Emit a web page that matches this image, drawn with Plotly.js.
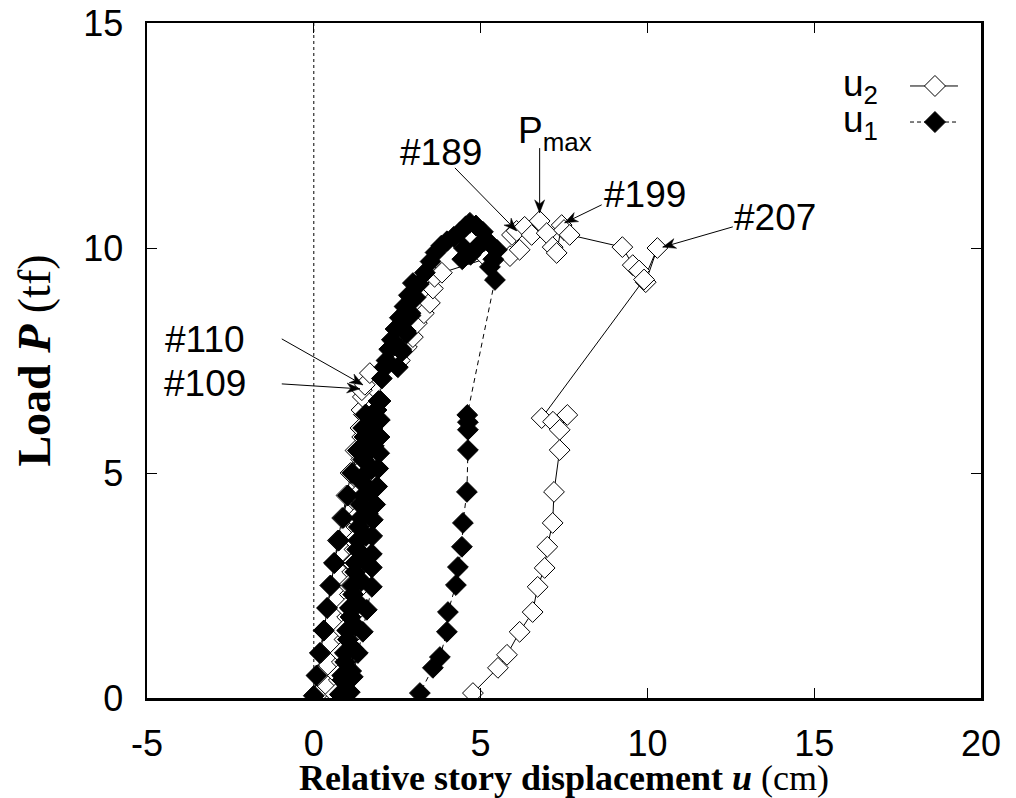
<!DOCTYPE html>
<html>
<head>
<meta charset="utf-8">
<script src="https://cdn.plot.ly/plotly-3.0.1.min.js"></script>
<style>html,body{margin:0;padding:0;background:#fff;}#chart{width:1016px;height:798px;}</style>
</head>
<body>
<div id="chart"></div>
<script>
// ---- data ----
// u1 : filled diamonds, dashed line  (displacement cm, load tf)
const u1Disp = [
  0.00,0.08,0.18,0.30,0.40,0.50,0.62,0.75,0.88,1.02,1.15,1.32,1.48,1.55,
  1.52,1.48,1.44,1.40,1.35,1.30,1.24,1.18,1.10,1.02,0.94,0.86,0.78,
  0.85,0.93,1.00,1.08,1.16,1.25,1.33,1.41,1.49,1.57,1.66,1.76,1.88,2.00,
  1.98,1.97,1.96,1.93,1.90,1.84,1.77,1.75,1.74,1.74,1.74,1.59,1.47,1.32,1.17,1.08,
  1.12,1.18,1.26,1.34,1.42,1.50,1.56,1.62,1.68,1.74,1.80,1.86,1.94,
  2.04,2.12,2.18,2.26,2.34,2.45,2.58,2.72,2.85,2.97,
  2.98,2.90,2.78,2.64,2.52,
  2.62,2.76,2.90,3.05,3.15,3.33,3.50,3.65,3.82,3.99,
  4.20,4.38,4.55,4.68,4.86,5.07,
  4.95,4.70,4.45,
  4.50,4.89,5.10,5.28,5.49,5.38,5.28,5.43,
  4.60,4.62,4.62,4.62,4.59,4.47,4.44,4.32,4.26,4.02,3.99,3.78,3.57,3.18
];
const u1Load = [
  0.05,0.5,1.0,1.5,2.0,2.5,3.0,3.5,4.0,4.5,5.0,5.5,6.0,6.3,
  5.8,5.3,4.8,4.3,3.8,3.3,2.8,2.3,1.8,1.3,0.8,0.4,0.08,
  0.5,1.0,1.5,2.0,2.5,3.0,3.5,4.0,4.5,5.0,5.5,6.0,6.4,6.6,
  6.18,5.8,5.44,5.1,4.7,4.3,3.96,3.6,3.2,2.9,2.47,1.96,1.47,1.0,0.47,0.13,
  0.6,1.1,1.6,2.1,2.6,3.1,3.6,4.1,4.6,5.1,5.6,6.1,6.6,
  7.1,7.35,7.5,7.75,7.96,8.2,8.45,8.7,8.95,9.22,
  8.9,8.5,8.1,7.7,7.35,
  7.75,8.15,8.55,8.9,9.2,9.45,9.7,9.9,10.05,10.15,
  10.25,10.35,10.48,10.56,10.50,10.36,
  10.05,9.85,9.75,
  10.0,10.02,10.15,10.10,9.96,9.75,9.58,9.29,
  6.29,6.13,5.96,5.51,4.58,3.89,3.36,2.91,2.51,1.91,1.47,0.91,0.67,0.11
];
// u2 : open diamonds, solid line
const u2Disp = [
  0.08,0.12,0.20,0.30,0.40,0.50,0.60,0.72,0.85,0.98,1.10,1.25,1.40,1.50,
  1.45,1.42,1.38,1.33,1.28,1.22,1.15,1.08,1.00,0.92,0.84,0.75,0.65,
  0.72,0.80,0.88,0.96,1.04,1.12,1.20,1.28,1.36,1.44,1.52,1.60,1.70,
  1.68,1.65,1.62,1.60,1.58,1.55,1.50,1.45,1.38,1.30,1.20,1.10,1.00,
  1.02,1.05,1.08,1.10,1.13,1.16,1.20,1.24,1.28,1.32,1.36,1.40,1.43,1.47,1.44,1.53,1.68,
  2.20,2.58,2.79,2.97,3.09,3.30,3.48,3.57,3.62,3.84,5.19,5.50,5.88,6.17,
  5.94,6.08,6.32,6.53,6.77,6.98,7.16,7.28,7.43,7.50,7.67,
  9.25,9.56,9.75,9.95,10.30,9.90,
  6.83,7.17,7.60,7.37,7.37,7.20,7.16,7.00,6.92,6.71,6.56,6.17,5.79,5.52,4.77
];
const u2Load = [
  0.05,0.5,1.0,1.5,2.0,2.5,3.0,3.5,4.0,4.5,5.0,5.5,6.0,6.3,
  5.8,5.3,4.8,4.3,3.8,3.3,2.8,2.3,1.8,1.3,0.8,0.4,0.08,
  0.5,1.0,1.5,2.0,2.5,3.0,3.5,4.0,4.5,5.0,5.5,6.0,6.5,
  6.0,5.5,5.0,4.5,4.0,3.5,3.0,2.5,2.0,1.5,1.0,0.5,0.08,
  0.5,1.0,1.5,2.0,2.5,3.0,3.5,4.0,4.5,5.0,5.5,6.0,6.4,6.69,6.84,6.96,7.22,
  7.40,7.50,7.80,8.02,8.33,8.55,8.78,9.10,9.36,9.45,9.77,9.82,9.82,9.96,
  10.29,10.38,10.47,10.29,10.60,10.33,10.02,9.89,10.51,10.40,10.29,
  10.02,9.62,9.50,9.24,10.00,9.30,
  6.22,6.14,6.29,5.96,5.51,4.58,3.89,3.36,2.89,2.47,1.91,1.47,0.96,0.67,0.11
];
const xTicks = [-5,0,5,10,15,20];
const yTicks = [0,5,10,15];
const seriesNames = ['u<sub>2</sub>','u<sub>1</sub>'];
// labelled points: [text, label x, label y, arrow tail x, tail y, head x, head y]
const callouts = [
  ['#189', 3.81,12.13, 4.23,11.78, 6.08,10.38],
  ['P<sub>max</sub>', 6.06,12.55, 6.77,12.22, 6.77,10.78],
  ['#199', 9.92,11.18, 8.63,10.96, 7.52,10.56],
  ['#207', 13.82,10.67, 12.56,10.47, 10.46,10.02],
  ['#110', -3.27,7.96, -0.96,7.98, 1.47,6.96],
  ['#109', -3.27,6.98, -0.96,6.98, 1.38,6.87]
];

const SANS = 'Liberation Sans, Arial, sans-serif';
const SERIF = 'Liberation Serif, Times New Roman, serif';
const X0 = -5, X1 = 20, Y0 = 0, Y1 = 15;
const plotW = 1016 - 147 - 35, plotH = 798 - 23 - 100;
const pxX = plotW / (X1 - X0), pxY = plotH / (Y1 - Y0);

const traces = [
  {x:u2Disp, y:u2Load, mode:'lines+markers', name:seriesNames[0], showlegend:false,
   line:{color:'#000', width:1},
   marker:{symbol:'diamond', size:16, color:'#fff', line:{color:'#000', width:1}}},
  {x:u1Disp, y:u1Load, mode:'lines+markers', name:seriesNames[1], showlegend:false,
   line:{color:'#000', width:1, dash:'5px,4px'},
   marker:{symbol:'diamond', size:16, color:'#000', line:{color:'#000', width:1}}}
];

const annotations = [];
const shapes = [
  {type:'line', xref:'x', yref:'y', x0:0, x1:0, y0:Y0, y1:Y1, layer:'below',
   line:{color:'#000', width:1, dash:'dot'}}
];
callouts.forEach(c => {
  const [t, lx, ly, tx, ty, hx, hy] = c;
  const isP = t.indexOf('max') >= 0;
  annotations.push({x:lx, y:ly, xref:'x', yref:'y', text:t, showarrow:false,
    xanchor: isP ? 'left' : 'center', yanchor:'middle',
    font:{family:SANS, size:37, color:'#000'}});
  // arrow shaft
  shapes.push({type:'line', xref:'x', yref:'y', x0:tx, y0:ty, x1:hx, y1:hy,
    line:{color:'#000', width:1}});
  // notched arrow head, built in pixel space
  const dxp = (hx - tx) * pxX, dyp = -(hy - ty) * pxY;
  const len = Math.hypot(dxp, dyp), ux = dxp / len, uy = dyp / len, nx = -uy, ny = ux;
  const L = 13, W = 5, N = 9;
  const p = (ox, oy) => [(hx + ox / pxX).toFixed(4), (hy - oy / pxY).toFixed(4)].join(',');
  shapes.push({type:'path', xref:'x', yref:'y',
    path:'M ' + p(0,0) + ' L ' + p(-L*ux + W*nx, -L*uy + W*ny) + ' L ' + p(-N*ux, -N*uy) +
         ' L ' + p(-L*ux - W*nx, -L*uy - W*ny) + ' Z',
    fillcolor:'#000', line:{color:'#000', width:0.5}});
});

// custom legend (text left, sample right)
const legY = [0.9067, 0.8533];
seriesNames.forEach((n, i) => {
  annotations.push({x:0.879, y:legY[i], xref:'paper', yref:'paper', xanchor:'right', yanchor:'middle',
    text:n, showarrow:false, font:{family:SANS, size:37, color:'#000'}});
});
const dx = 10.5 / plotW, dy = 10.5 / plotH, cx = 0.9448;
legY.forEach((y, i) => {
  shapes.push({type:'line', xref:'paper', yref:'paper', x0:0.9149, x1:0.9724, y0:y, y1:y,
    line:{color:'#000', width:1, dash: i === 0 ? 'solid' : '4px,3px'}});
  shapes.push({type:'path', xref:'paper', yref:'paper',
    path:`M ${cx-dx},${y} L ${cx},${y+dy} L ${cx+dx},${y} L ${cx},${y-dy} Z`,
    fillcolor: i === 0 ? '#fff' : '#000', line:{color:'#000', width:1}});
});

const axisCommon = {
  showgrid:false, zeroline:false, showline:true, linewidth:2.5, linecolor:'#000',
  mirror:'ticks', ticks:'inside', ticklen:10, tickwidth:1, tickcolor:'#000',
  tickfont:{family:SANS, size:36, color:'#000'}
};

const layout = {
  width:1016, height:798,
  margin:{l:147, r:35, t:23, b:100, pad:0},
  paper_bgcolor:'#fff', plot_bgcolor:'#fff',
  showlegend:false,
  xaxis:Object.assign({}, axisCommon, {
    range:[X0, X1], tickvals:xTicks, ticktext:xTicks.map(String), ticklabelstandoff:12,
    title:{text:'<b>Relative story displacement <i>u</i></b> (cm)', font:{family:SERIF, size:36, color:'#000'}, standoff:11}
  }),
  yaxis:Object.assign({}, axisCommon, {
    range:[Y0, Y1], tickvals:yTicks, ticktext:yTicks.map(String), ticklabelstandoff:14,
    title:{text:'<b>Load <i>P</i></b> (tf)', font:{family:SERIF, size:46, color:'#000'}, standoff:18}
  }),
  annotations:annotations,
  shapes:shapes
};

Plotly.newPlot('chart', traces, layout, {staticPlot:true, displayModeBar:false});
</script>
</body>
</html>
